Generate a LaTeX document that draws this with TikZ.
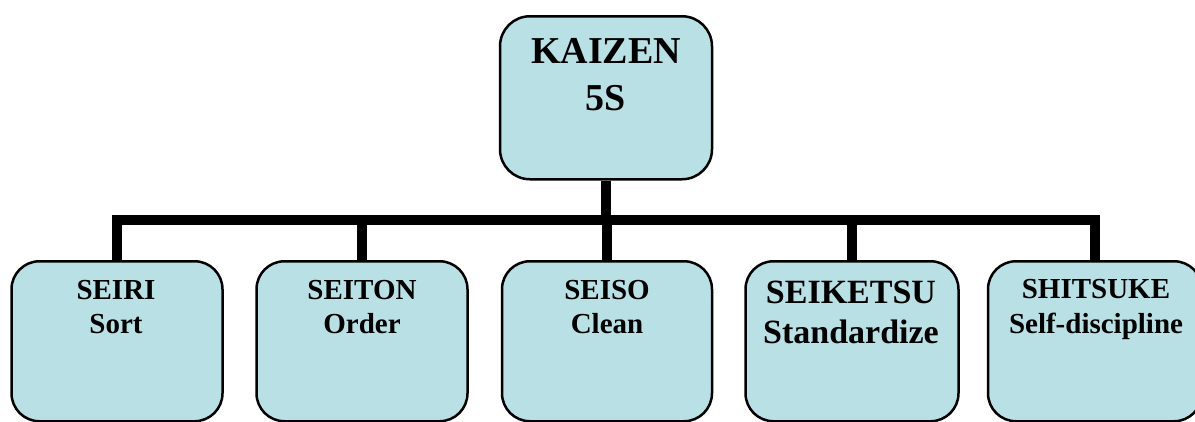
\documentclass[tikz,border=0pt]{standalone}
\usepackage{fontspec}
\setmainfont{Liberation Serif}
\definecolor{boxfill}{RGB}{185,224,228}
\begin{document}
\begin{tikzpicture}[x=1pt,y=-1pt,
  box/.style={draw=black, line width=2.5pt, fill=boxfill, rounded corners=28pt,
    inner sep=0pt, anchor=north},
  lbl/.style={anchor=north, align=center, inner sep=0pt, font=\bfseries},
  conn/.style={line width=10pt, line join=miter, draw=black}]
\useasboundingbox (0,0) rectangle (1195,421);
% boxes
\node[box, minimum width=212pt, minimum height=163pt, rounded corners=30pt] (top) at (606,15) {};
\node[box, minimum width=211pt, minimum height=160pt] (seiri) at (117,260) {};
\node[box, minimum width=211pt, minimum height=160pt] (seiton) at (362,260) {};
\node[box, minimum width=210pt, minimum height=160pt] (seiso) at (607,260) {};
\node[box, minimum width=213pt, minimum height=160pt] (seiketsu) at (852,260) {};
\node[box, minimum width=214pt, minimum height=160pt] (shitsuke) at (1095,260) {};
% texts
\node[lbl, font=\bfseries\fontsize{38}{47}\selectfont] (tkaizen) at (606,38) {KAIZEN\\5S};
\node[lbl, font=\bfseries\fontsize{29}{34}\selectfont] (tseiri) at (116,280) {SEIRI\\Sort};
\node[lbl, font=\bfseries\fontsize{29}{34}\selectfont] (tseiton) at (362,280) {SEITON\\Order};
\node[lbl, font=\bfseries\fontsize{29}{34}\selectfont] (tseiso) at (607,280) {SEISO\\Clean};
\node[lbl, font=\bfseries\fontsize{34}{40}\selectfont] (tseiketsu) at (851,280.5) {SEIKETSU\\Standardize};
\node[lbl, font=\bfseries\fontsize{29}{35}\selectfont] (tshitsuke) at (1096,279) {SHITSUKE\\Self-discipline};
% connectors
\coordinate (bar) at (606,220);
\draw[conn] (top.south) -- (bar);
\draw[conn] (bar) -| (seiri.north);
\draw[conn] (bar) -| (seiton.north);
\draw[conn] (bar) -| (seiso.north);
\draw[conn] (bar) -| (seiketsu.north);
\draw[conn] (bar) -| (shitsuke.north);
\end{tikzpicture}
\end{document}
